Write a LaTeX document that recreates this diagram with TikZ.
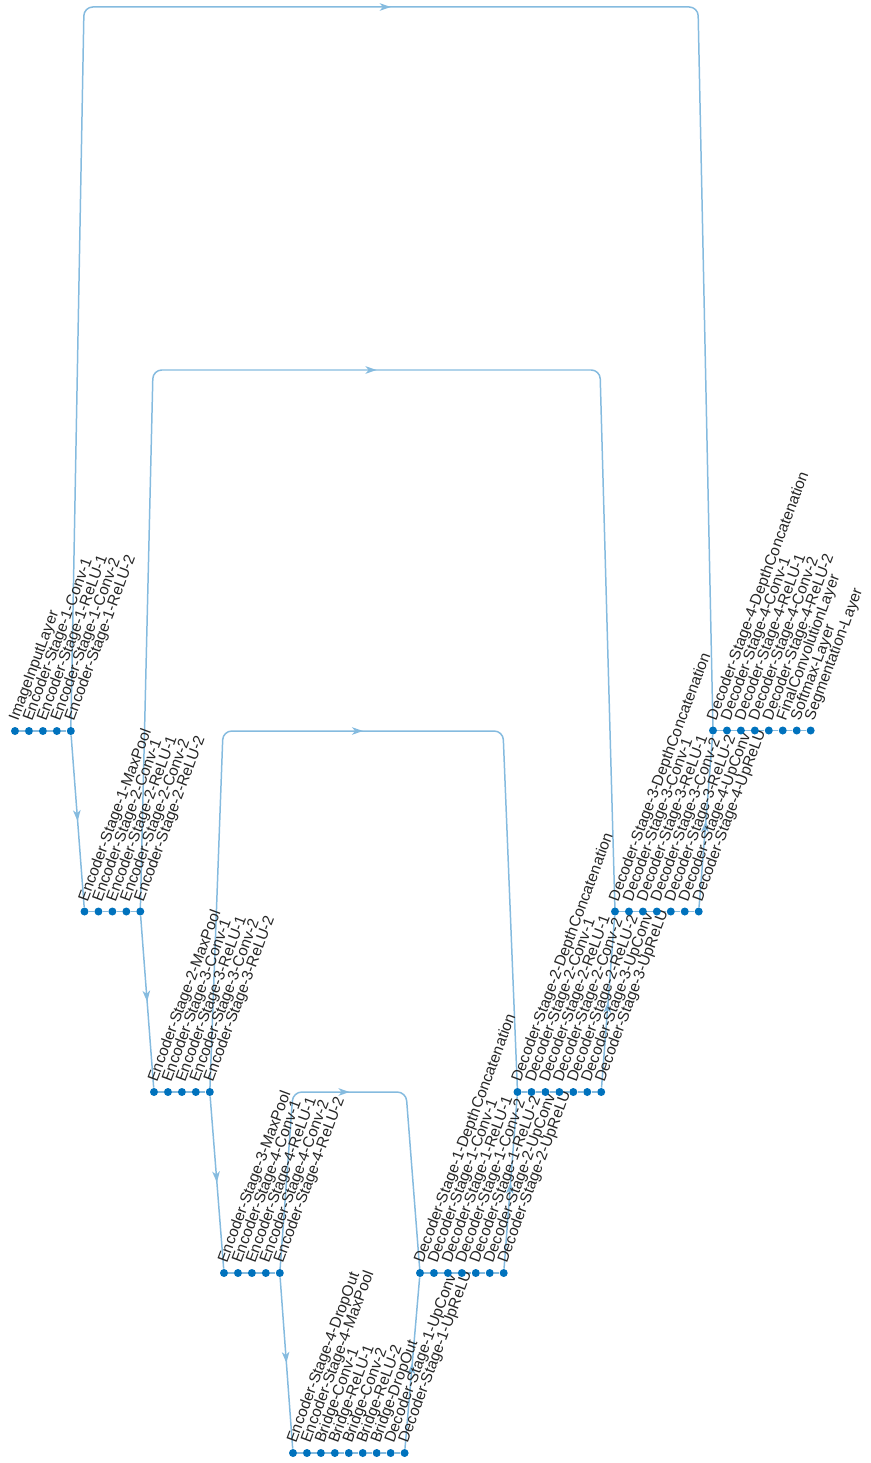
\documentclass[tikz,border=0pt]{standalone}
\usepackage{fontspec}
\setmainfont{Liberation Sans}
\usetikzlibrary{arrows.meta,calc,decorations.markings,backgrounds}
\definecolor{mblue}{HTML}{0072BD}
\definecolor{ink}{HTML}{262626}
\colorlet{linkc}{mblue!48}

\begin{document}
\begin{tikzpicture}[x=0.02cm,y=-0.02cm,
  lay/.style={circle,fill=mblue,inner sep=0pt,minimum size=0.16cm},
  lbl/.style={rotate=69.5,anchor=base west,inner sep=0pt,text=ink,font=\fontsize{8.8}{10}\selectfont},
  link/.style={draw=linkc,line width=0.85pt},
  mid/.style={postaction={decorate},decoration={markings,mark=at position 0.5 with {\arrow[linkc]{Stealth[length=2.2mm,width=1.5mm,inset=0.6mm]}}}}]
\useasboundingbox (0,0) rectangle (870,1463);

\foreach \t [count=\i] in {ImageInputLayer,Encoder-Stage-1-Conv-1,Encoder-Stage-1-ReLU-1,Encoder-Stage-1-Conv-2,Encoder-Stage-1-ReLU-2}{
  \node[lay] (s1-\i) at ({15+13.95*(\i-1)},731) {};
  \node[lbl] (s1-\i-t) at ($(s1-\i)+(3,-9)$) {\t};}
\foreach \t [count=\i] in {Encoder-Stage-1-MaxPool,Encoder-Stage-2-Conv-1,Encoder-Stage-2-ReLU-1,Encoder-Stage-2-Conv-2,Encoder-Stage-2-ReLU-2}{
  \node[lay] (s2-\i) at ({84.5+13.95*(\i-1)},911.5) {};
  \node[lbl] (s2-\i-t) at ($(s2-\i)+(3,-9)$) {\t};}
\foreach \t [count=\i] in {Encoder-Stage-2-MaxPool,Encoder-Stage-3-Conv-1,Encoder-Stage-3-ReLU-1,Encoder-Stage-3-Conv-2,Encoder-Stage-3-ReLU-2}{
  \node[lay] (s3-\i) at ({154+13.95*(\i-1)},1092) {};
  \node[lbl] (s3-\i-t) at ($(s3-\i)+(3,-9)$) {\t};}
\foreach \t [count=\i] in {Encoder-Stage-3-MaxPool,Encoder-Stage-4-Conv-1,Encoder-Stage-4-ReLU-1,Encoder-Stage-4-Conv-2,Encoder-Stage-4-ReLU-2}{
  \node[lay] (s4-\i) at ({224+13.95*(\i-1)},1273) {};
  \node[lbl] (s4-\i-t) at ($(s4-\i)+(3,-9)$) {\t};}
\foreach \t [count=\i] in {Encoder-Stage-4-DropOut,Encoder-Stage-4-MaxPool,Bridge-Conv-1,Bridge-ReLU-1,Bridge-Conv-2,Bridge-ReLU-2,Bridge-DropOut,Decoder-Stage-1-UpConv,Decoder-Stage-1-UpReLU}{
  \node[lay] (br-\i) at ({293+13.95*(\i-1)},1453) {};
  \node[lbl] (br-\i-t) at ($(br-\i)+(3,-9)$) {\t};}
\foreach \t [count=\i] in {Decoder-Stage-1-DepthConcatenation,Decoder-Stage-1-Conv-1,Decoder-Stage-1-ReLU-1,Decoder-Stage-1-Conv-2,Decoder-Stage-1-ReLU-2,Decoder-Stage-2-UpConv,Decoder-Stage-2-UpReLU}{
  \node[lay] (d1-\i) at ({420+13.95*(\i-1)},1273) {};
  \node[lbl] (d1-\i-t) at ($(d1-\i)+(3,-9)$) {\t};}
\foreach \t [count=\i] in {Decoder-Stage-2-DepthConcatenation,Decoder-Stage-2-Conv-1,Decoder-Stage-2-ReLU-1,Decoder-Stage-2-Conv-2,Decoder-Stage-2-ReLU-2,Decoder-Stage-3-UpConv,Decoder-Stage-3-UpReLU}{
  \node[lay] (d2-\i) at ({517.5+13.95*(\i-1)},1092) {};
  \node[lbl] (d2-\i-t) at ($(d2-\i)+(3,-9)$) {\t};}
\foreach \t [count=\i] in {Decoder-Stage-3-DepthConcatenation,Decoder-Stage-3-Conv-1,Decoder-Stage-3-ReLU-1,Decoder-Stage-3-Conv-2,Decoder-Stage-3-ReLU-2,Decoder-Stage-4-UpConv,Decoder-Stage-4-UpReLU}{
  \node[lay] (d3-\i) at ({615+13.95*(\i-1)},911.5) {};
  \node[lbl] (d3-\i-t) at ($(d3-\i)+(3,-9)$) {\t};}
\foreach \t [count=\i] in {Decoder-Stage-4-DepthConcatenation,Decoder-Stage-4-Conv-1,Decoder-Stage-4-ReLU-1,Decoder-Stage-4-Conv-2,Decoder-Stage-4-ReLU-2,FinalConvolutionLayer,Softmax-Layer,Segmentation-Layer}{
  \node[lay] (d4-\i) at ({713+13.95*(\i-1)},730.5) {};
  \node[lbl] (d4-\i-t) at ($(d4-\i)+(3,-9)$) {\t};}

\begin{scope}[on background layer]
\foreach \r/\n in {s1/5,s2/5,s3/5,s4/5,br/9,d1/7,d2/7,d3/7,d4/8}
  \foreach \i [remember=\i as \j (initially 1)] in {2,...,\n}
    \draw[link] (\r-\j) -- (\r-\i);
\draw[link,mid] (s1-5) -- (s2-1);
\draw[link,mid] (s2-5) -- (s3-1);
\draw[link,mid] (s3-5) -- (s4-1);
\draw[link,mid] (s4-5) -- (br-1);
\draw[link,mid] (br-9) -- (d1-1);
\draw[link,mid] (d1-7) -- (d2-1);
\draw[link,mid] (d2-7) -- (d3-1);
\draw[link,mid] (d3-7) -- (d4-1);
\draw[link,mid,rounded corners=5] (s1-5.center) -- (84,7) -- (698,7) -- (d4-1.center);
\draw[link,mid,rounded corners=5] (s2-5.center) -- (153,370) -- (600,370) -- (d3-1.center);
\draw[link,mid,rounded corners=5] (s3-5.center) -- (223,731) -- (503,731) -- (d2-1.center);
\draw[link,mid,rounded corners=5] (s4-5.center) -- (293,1092) -- (406,1092) -- (d1-1.center);
\end{scope}
\end{tikzpicture}
\end{document}
